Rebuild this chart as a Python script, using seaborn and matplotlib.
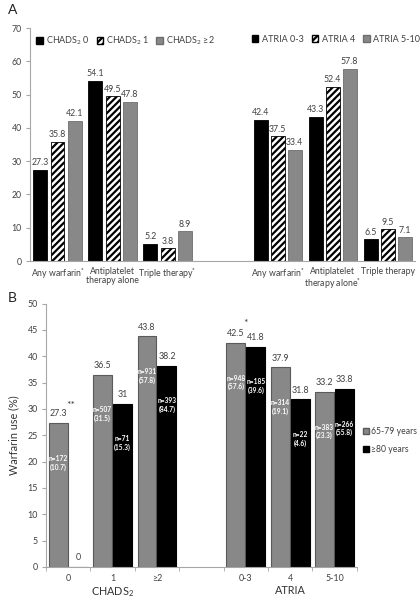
import numpy as np
import pandas as pd
import matplotlib
matplotlib.use("Agg")
import matplotlib.pyplot as plt
import seaborn as sns
from matplotlib.patches import Patch

sns.set_style("white")
plt.rcParams["font.family"] = ["Lato", "DejaVu Sans"]
plt.rcParams["mathtext.fontset"] = "custom"
plt.rcParams["mathtext.rm"] = "Lato"
plt.rcParams["mathtext.it"] = "Lato"
plt.rcParams["mathtext.bf"] = "Lato:bold"
plt.rcParams["hatch.linewidth"] = 1.6

# ---------------- data: panel A ----------------
slots_a = ["C_any", "C_anti", "C_triple", "gap", "R_any", "R_anti", "R_triple"]
slot_labels_a = ["Any warfarin$^{\\mathbf{*}}$", "Antiplatelet\ntherapy alone",
                 "Triple therapy$^{\\mathbf{*}}$", "", "Any warfarin$^{\\mathbf{*}}$",
                 "Antiplatelet\ntherapy alone$^{\\mathbf{*}}$", "Triple therapy"]
levels_a = ["low", "mid", "high"]
chads_names = ["CHADS$_2$ 0", "CHADS$_2$ 1", "CHADS$_2$ ≥2"]
atria_names = ["ATRIA 0-3", "ATRIA 4", "ATRIA 5-10"]

chads_any = [27.3, 35.8, 42.1]
chads_anti = [54.1, 49.5, 47.8]
chads_triple = [5.2, 3.8, 8.9]
atria_any = [42.4, 37.5, 33.4]
atria_anti = [43.3, 52.4, 57.8]
atria_triple = [6.5, 9.5, 7.1]

# ---------------- data: panel B ----------------
slots_b = ["0", "1", "≥2", "gap", "0-3", "4", "5-10"]
ages = ["65-79 years", "≥80 years"]
young_vals = [27.3, 36.5, 43.8, 42.5, 37.9, 33.2]
old_vals = [0, 31, 38.2, 41.8, 31.8, 33.8]
young_n = ["n=172\n(10.7)", "n=507\n(31.5)", "n=931\n(57.8)", "n=948\n(57.6)", "n=314\n(19.1)", "n=383\n(23.3)"]
old_n = ["", "n=71\n(15.3)", "n=393\n(84.7)", "n=185\n(39.6)", "n=22\n(4.6)", "n=266\n(55.8)"]
score_slots = ["0", "1", "≥2", "0-3", "4", "5-10"]

GRAY = "#888888"
TXT = "#404040"
SPINE = "#a6a6a6"

rows = []
for slot, vals in zip(slots_a[:3] + slots_a[4:],
                      [chads_any, chads_anti, chads_triple, atria_any, atria_anti, atria_triple]):
    for lev, v in zip(levels_a, vals):
        rows.append({"slot": slot, "level": lev, "value": v})
df_a = pd.DataFrame(rows)

rows = []
for i, s in enumerate(score_slots):
    rows.append({"slot": s, "age": ages[0], "value": young_vals[i], "n": young_n[i]})
    rows.append({"slot": s, "age": ages[1], "value": old_vals[i], "n": old_n[i]})
df_b = pd.DataFrame(rows)

fig = plt.figure(figsize=(4.2, 6), dpi=100)
ax_a = fig.add_axes([0.0714, 0.565, 0.917, 0.388])
ax_b = fig.add_axes([0.1095, 0.055, 0.740, 0.439])

# ---------------- panel A ----------------
sns.barplot(data=df_a, x="slot", y="value", hue="level", order=slots_a,
            hue_order=levels_a, palette=["black", "white", GRAY],
            width=0.93, gap=0.18, edgecolor="black", linewidth=0.6,
            legend=False, ax=ax_a)
for k, cont in enumerate(ax_a.containers):
    for p in cont.patches:
        if k == 1:
            p.set_facecolor("white")
            p.set_hatch("/////")
            p.set_edgecolor("black")
        elif k == 2:
            p.set_edgecolor("#6e6e6e")
    ax_a.bar_label(cont, fmt="%.1f", padding=2, fontsize=6.3, color=TXT)

ax_a.set_ylim(0, 70)
ax_a.set_xlim(-0.5, 6.5)
ax_a.set_yticks(range(0, 71, 10))
ax_a.set_xticks(range(7))
ax_a.set_xticklabels(slot_labels_a, fontsize=6.3, color=TXT, linespacing=1.1)
ax_a.tick_params(axis="x", length=0, pad=4)
ax_a.tick_params(axis="y", length=3, direction="out", color=SPINE, labelsize=6.3,
                 labelcolor=TXT, pad=3, left=True)
ax_a.set_xlabel("")
ax_a.set_ylabel("")
for s in ["top", "right"]:
    ax_a.spines[s].set_visible(False)
ax_a.spines["left"].set_color(SPINE)
ax_a.spines["bottom"].set_color(SPINE)

def level_handles(names):
    return [Patch(facecolor="black", edgecolor="black", label=names[0]),
            Patch(facecolor="white", edgecolor="black", hatch="/////", label=names[1]),
            Patch(facecolor=GRAY, edgecolor="#6e6e6e", label=names[2])]

leg1 = ax_a.legend(handles=level_handles(chads_names), loc="upper left",
                   bbox_to_anchor=(0.0, 1.0), ncol=3, frameon=False, fontsize=6.5,
                   handlelength=0.7, handleheight=0.7, handletextpad=0.4,
                   columnspacing=0.7, labelcolor=TXT, borderaxespad=0.3)
ax_a.add_artist(leg1)
ax_a.legend(handles=level_handles(atria_names), loc="upper left",
            bbox_to_anchor=(0.56, 1.0), ncol=3, frameon=False, fontsize=6.5,
            handlelength=0.7, handleheight=0.7, handletextpad=0.4,
            columnspacing=0.9, labelcolor=TXT, borderaxespad=0.3)

fig.text(0.018, 0.983, "A", fontsize=10, color="#222222", va="center")

# ---------------- panel B ----------------
sns.barplot(data=df_b, x="slot", y="value", hue="age", order=slots_b,
            hue_order=ages, palette=[GRAY, "black"], width=0.9, gap=0.05,
            linewidth=0.8, legend=False, ax=ax_b)
edge_cols = ["#5a5a5a", "black"]
label_map = {(r.slot, r.age): r for r in df_b.itertuples()}
for k, cont in enumerate(ax_b.containers):
    for p in cont.patches:
        p.set_edgecolor(edge_cols[k])
        xc = p.get_x() + p.get_width() / 2
        idx = int(round(xc))
        if idx < 0 or idx >= len(slots_b) or slots_b[idx] == "gap":
            continue
        r = label_map[(slots_b[idx], ages[k])]
        ax_b.text(xc, r.value + 0.9, f"{r.value:g}", ha="center", va="bottom",
                  fontsize=6.4, color=TXT)
        if r.n:
            ax_b.text(xc, r.value - 7.5, r.n, ha="center", va="center",
                      fontsize=4.8, color="white", fontweight="bold",
                      linespacing=1.25)

ax_b.text(0.07, 29.8, "**", ha="center", va="bottom", fontsize=7.5, color=TXT)
ax_b.text(4.0, 45.3, "*", ha="center", va="bottom", fontsize=7.5, color=TXT)

ax_b.set_ylim(0, 50)
ax_b.set_xlim(-0.5, 6.5)
ax_b.set_yticks(range(0, 51, 5))
ax_b.set_xticks([0, 1, 2, 4, 5, 6])
ax_b.set_xticklabels(score_slots, fontsize=6.4, color=TXT)
ax_b.set_xticks(np.arange(-0.5, 7, 1), minor=True)
ax_b.tick_params(axis="x", which="major", length=0, pad=5)
ax_b.tick_params(axis="x", which="minor", length=3, direction="out", color=SPINE, bottom=True)
ax_b.tick_params(axis="y", length=3, direction="out", color=SPINE, labelsize=6.4,
                 labelcolor=TXT, pad=3, left=True)
ax_b.set_xlabel("")
ax_b.set_ylabel("Warfarin use (%)", fontsize=7.8, color="#333333", labelpad=6)
for s in ["top", "right"]:
    ax_b.spines[s].set_visible(False)
ax_b.spines["left"].set_color(SPINE)
ax_b.spines["bottom"].set_color(SPINE)

grp = ax_b.get_xaxis_transform()
ax_b.text(1.0, -0.068, "CHADS$_2$", transform=grp, ha="center", va="top",
          fontsize=7.8, color="#333333")
ax_b.text(5.0, -0.068, "ATRIA", transform=grp, ha="center", va="top",
          fontsize=7.8, color="#333333")

ax_b.legend(handles=[Patch(facecolor=GRAY, edgecolor="#5a5a5a", label=ages[0]),
                     Patch(facecolor="black", edgecolor="black", label=ages[1])],
            loc="center left", bbox_to_anchor=(1.0, 0.48), frameon=False,
            fontsize=6.2, handlelength=0.7, handleheight=0.7, handletextpad=0.2,
            labelspacing=1.0, labelcolor=TXT, borderaxespad=0.3)

fig.text(0.018, 0.503, "B", fontsize=10, color="#222222", va="center")

fig.savefig("out.png", dpi=100)
